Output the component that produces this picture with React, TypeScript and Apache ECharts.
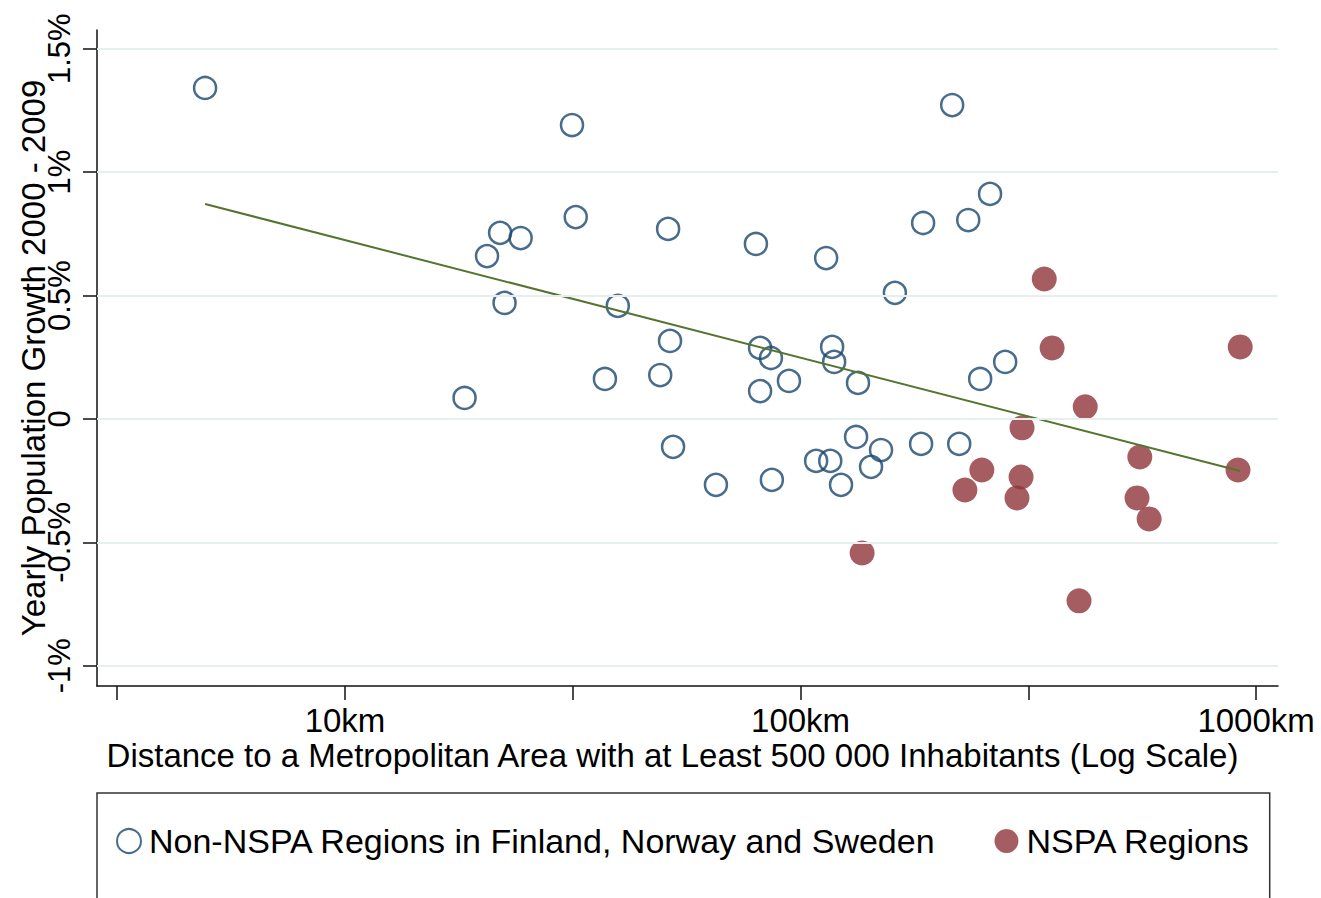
import React, { useEffect, useRef } from 'react';
import * as echarts from 'echarts';

// Non-NSPA regions (Finland, Norway, Sweden): distance in km, yearly growth in %
const nonNspaKm = [4.93, 18.3, 20.5, 21.9, 22.4, 24.3, 31.5, 32.1, 37.2, 39.7, 49.2, 51.2, 51.7, 52.5, 65.2, 79.8, 81.5, 81.5, 86.1, 86.5, 94.3, 108.2, 113.8, 116.2, 117.3, 118.5, 122.7, 132.4, 133.7, 142.8, 150.2, 161.1, 183.9, 185.8, 215.2, 223.0, 233.4, 247.9, 260.6, 281.3];
const nonNspaGrowth = [1.341, 0.085, 0.66, 0.754, 0.47, 0.733, 1.191, 0.818, 0.162, 0.458, 0.178, 0.77, 0.316, -0.113, -0.267, 0.709, 0.288, 0.113, 0.247, -0.247, 0.154, -0.17, 0.652, -0.17, 0.292, 0.231, -0.267, -0.073, 0.146, -0.194, -0.126, 0.511, -0.101, 0.794, 1.272, -0.101, 0.806, 0.162, 0.912, 0.231];

// NSPA regions
const nspaKm = [136.5, 342.7, 356.6, 922.8, 421.6, 306.3, 250.0, 229.5, 304.8, 298.6, 555.5, 912.6, 547.8, 582.3, 408.6];
const nspaGrowth = [-0.543, 0.567, 0.288, 0.292, 0.049, -0.036, -0.207, -0.288, -0.235, -0.32, -0.154, -0.207, -0.32, -0.405, -0.737];

// Fitted line (linear in log distance)
const fitKm = [4.93, 922.8];
const fitGrowth = [0.871, -0.211];

// Axis ticks
const yTicks = [-1, -0.5, 0, 0.5, 1, 1.5];
const yTickLabels = ['-1%', '-0.5%', '0', '0.5%', '1%', '1.5%'];
const xTickKm = [3.1623, 10, 31.623, 100, 316.23, 1000];
const xLabelKm = [10, 100, 1000];

const seriesNames = ['Non-NSPA Regions in Finland, Norway and Sweden', 'NSPA Regions'];

const FONT = '"Liberation Sans", Arial, sans-serif';
const NAVY = '#1a476f';
const MAROON = '#90353b';
const GREEN = '#55752f';
const GRID = '#e6eeee';

export default function App() {
  const ref = useRef<HTMLDivElement>(null);
  useEffect(() => {
    if (!ref.current) return;
    const chart = echarts.init(ref.current, null, { renderer: 'svg' });
    const option = {
      animation: false,
      backgroundColor: '#ffffff',
      textStyle: { fontFamily: FONT, color: '#000' },
      grid: { left: 97, right: 43, top: 30, bottom: 212, containLabel: false, outerBoundsMode: 'none' },
      legend: {
        data: seriesNames,
        left: 97,
        top: 793,
        orient: 'horizontal',
        itemGap: 58,
        itemWidth: 24,
        itemHeight: 24,
        padding: [31, 19, 70, 19],
        borderColor: '#333',
        borderWidth: 1.5,
        textStyle: { fontSize: 34, fontFamily: FONT, color: '#000', padding: [0, 0, 0, 3] },
      },
      xAxis: {
        type: 'log',
        logBase: Math.sqrt(10),
        min: 2.855,
        max: 1117,
        name: 'Distance to a Metropolitan Area with at Least 500 000 Inhabitants (Log Scale)',
        nameLocation: 'middle',
        nameGap: 53,
        nameMoveOverlap: false,
        nameTextStyle: { fontSize: 33, fontFamily: FONT, color: '#000', padding: [0, 30, 0, 0] },
        axisLine: { show: true, onZero: false, lineStyle: { color: '#111', width: 1.5 } },
        axisTick: { show: true, length: 14, customValues: xTickKm, lineStyle: { color: '#111', width: 1.5 } },
        axisLabel: {
          margin: 18,
          fontSize: 33,
          fontFamily: FONT,
          color: '#000',
          showMinLabel: false,
          showMaxLabel: false,
          formatter: (v: number) => {
            const l = Math.log10(v);
            const r = Math.round(l);
            if (Math.abs(l - r) < 1e-6 && xLabelKm.includes(Math.pow(10, r))) return Math.pow(10, r) + 'km';
            return '';
          },
        },
        splitLine: { show: false },
      },
      yAxis: {
        type: 'value',
        min: -1.082,
        max: 1.576,
        name: 'Yearly Population Growth 2000 - 2009',
        nameLocation: 'middle',
        nameRotate: 90,
        nameGap: 47,
        nameMoveOverlap: false,
        nameTextStyle: { fontSize: 33, fontFamily: FONT, color: '#000' },
        axisLine: { show: true, onZero: false, lineStyle: { color: '#111', width: 1.5 } },
        axisTick: { show: true, length: 14, customValues: yTicks, lineStyle: { color: '#111', width: 1.5 } },
        axisLabel: {
          customValues: yTicks,
          rotate: 90,
          margin: 22,
          fontSize: 31,
          fontFamily: FONT,
          color: '#000',
          formatter: (v: number) => {
            const i = yTicks.findIndex((t) => Math.abs(t - v) < 1e-9);
            return i >= 0 ? yTickLabels[i] : '';
          },
        },
        splitLine: { show: false },
      },
      series: [
        {
          name: 'gridlines',
          type: 'line',
          data: [],
          z: 1,
          silent: true,
          markLine: {
            silent: true,
            symbol: ['none', 'none'],
            label: { show: false },
            lineStyle: { color: GRID, width: 2, type: 'solid' },
            data: yTicks.map((v) => ({ yAxis: v })),
          },
        },
        {
          name: seriesNames[0],
          type: 'scatter',
          z: 3,
          symbol: 'circle',
          symbolSize: 22,
          itemStyle: { color: 'rgba(255,255,255,0)', borderColor: NAVY, borderWidth: 2.5 },
          data: nonNspaKm.map((x, i) => [x, nonNspaGrowth[i]]),
        },
        {
          name: seriesNames[1],
          type: 'scatter',
          z: 3,
          symbol: 'circle',
          symbolSize: 25,
          itemStyle: { color: MAROON },
          data: nspaKm.map((x, i) => [x, nspaGrowth[i]]),
        },
        {
          name: 'Fit',
          type: 'line',
          z: 4,
          symbol: 'none',
          lineStyle: { color: GREEN, width: 2 },
          data: fitKm.map((x, i) => [x, fitGrowth[i]]),
        },
      ],
    };
    chart.setOption(option as any);
    return () => chart.dispose();
  }, []);
  return (
    <div
      ref={ref}
      style={{ position: 'fixed', left: 0, top: 0, width: 1321, height: 898, background: '#fff' }}
    />
  );
}
